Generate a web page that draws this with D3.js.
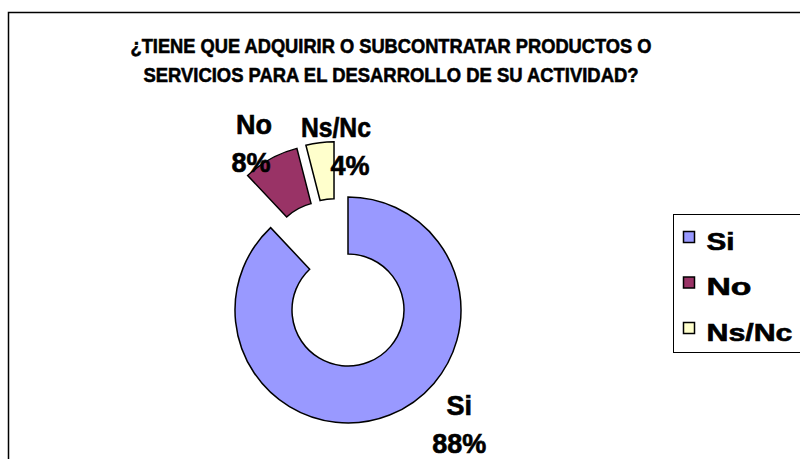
<!DOCTYPE html>
<html>
<head>
<meta charset="utf-8">
<script src="https://cdn.jsdelivr.net/npm/d3@7"></script>
<style>
  body { margin: 0; background: #fff; }
  text { font-family: Arial, "Liberation Sans", sans-serif; font-weight: bold; fill: #000;
         stroke: #000; stroke-width: 0.6px; }
</style>
</head>
<body>
<div id="chart"></div>
<script>
// chart data
var categories = ["Si", "No", "Ns/Nc"];
var values = [88, 8, 4];
var percentLabels = ["88%", "8%", "4%"];
var colors = ["#9999FF", "#993366", "#FFFFCC"];
var titleLines = ["¿TIENE QUE ADQUIRIR O SUBCONTRATAR PRODUCTOS O",
                  "SERVICIOS PARA EL DESARROLLO DE SU ACTIVIDAD?"];

var width = 800, height = 459;
var cx = 348, cy = 310;
var outerR = 113, innerR = 56;

// how far each slice is pulled out (px, direction tweak in deg)
// and where its label sits (angle deg, radius, x nudge of the % line, squeeze of the name)
var explode = [{d: 0, t: 0}, {d: 57, t: 5}, {d: 57, t: -7}];
var labelPos = [{a: 136, r: 160, dx: 0, w: null},
                {a: 328, r: 134, dx: -3, w: null},
                {a: 1, r: 108, dx: 14, w: 70}];

var svg = d3.select("#chart")
  .append("svg")
  .attr("width", width)
  .attr("height", height);

// outer frame (runs off the right and bottom edges)
svg.append("rect")
  .attr("x", 8.5).attr("y", 12.5)
  .attr("width", 900).attr("height", 500)
  .attr("fill", "none")
  .attr("stroke", "#000")
  .attr("stroke-width", 1.5);

// title
svg.selectAll(".title")
  .data(titleLines)
  .enter()
  .append("text")
  .attr("class", "title")
  .attr("x", 391)
  .attr("y", function(d, i) { return 53 + i * 29; })
  .attr("text-anchor", "middle")
  .attr("textLength", function(d, i) { return i == 0 ? 521 : 495; })
  .attr("lengthAdjust", "spacingAndGlyphs")
  .style("font-size", "21px")
  .text(function(d) { return d; });

var pie = d3.pie().sort(null).value(function(d) { return d; });
var arcs = pie(values);

var arc = d3.arc().innerRadius(innerR).outerRadius(outerR);

function offset(d, i) {
  var mid = (d.startAngle + d.endAngle) / 2 + explode[i].t * Math.PI / 180;
  return [Math.sin(mid) * explode[i].d, -Math.cos(mid) * explode[i].d];
}

var g = svg.append("g")
  .attr("transform", "translate(" + cx + "," + cy + ")");

g.selectAll(".slice")
  .data(arcs)
  .enter()
  .append("path")
  .attr("class", "slice")
  .attr("d", arc)
  .attr("transform", function(d, i) { return "translate(" + offset(d, i) + ")"; })
  .attr("fill", function(d, i) { return colors[i]; })
  .attr("stroke", "#000")
  .attr("stroke-width", 1.5)
  .attr("stroke-linejoin", "miter");

// data labels
var labels = g.selectAll(".lbl")
  .data(arcs)
  .enter()
  .append("text")
  .attr("class", "lbl")
  .attr("text-anchor", "middle")
  .style("font-size", "27px")
  .attr("transform", function(d, i) {
    var o = offset(d, i);
    var a = labelPos[i].a * Math.PI / 180;
    var x = o[0] + Math.sin(a) * labelPos[i].r;
    var y = o[1] - Math.cos(a) * labelPos[i].r;
    return "translate(" + x + "," + y + ")";
  });

labels.append("tspan")
  .attr("x", 0).attr("y", -10)
  .each(function(d, i) {
    if (labelPos[i].w) {
      d3.select(this).attr("textLength", labelPos[i].w).attr("lengthAdjust", "spacingAndGlyphs");
    }
  })
  .text(function(d, i) { return categories[i]; });
labels.append("tspan")
  .attr("x", function(d, i) { return labelPos[i].dx; }).attr("y", 28)
  .text(function(d, i) { return percentLabels[i]; });

// legend
var legendWidths = [28, 45, 86];
var legend = svg.append("g")
  .attr("transform", "translate(673.5,214.5)");

legend.append("rect")
  .attr("width", 200).attr("height", 138)
  .attr("fill", "#fff")
  .attr("stroke", "#000")
  .attr("stroke-width", 1);

var item = legend.selectAll(".item")
  .data(categories)
  .enter()
  .append("g")
  .attr("class", "item")
  .attr("transform", function(d, i) { return "translate(0," + (23 + i * 45.5) + ")"; });

item.append("rect")
  .attr("x", 10).attr("y", -6)
  .attr("width", 11).attr("height", 11)
  .attr("fill", function(d, i) { return colors[i]; })
  .attr("stroke", "#000")
  .attr("stroke-width", 1.5);

item.append("text")
  .attr("x", 33)
  .attr("y", 12)
  .attr("textLength", function(d, i) { return legendWidths[i]; })
  .attr("lengthAdjust", "spacingAndGlyphs")
  .style("font-size", "24px")
  .text(function(d) { return d; });
</script>
</body>
</html>
